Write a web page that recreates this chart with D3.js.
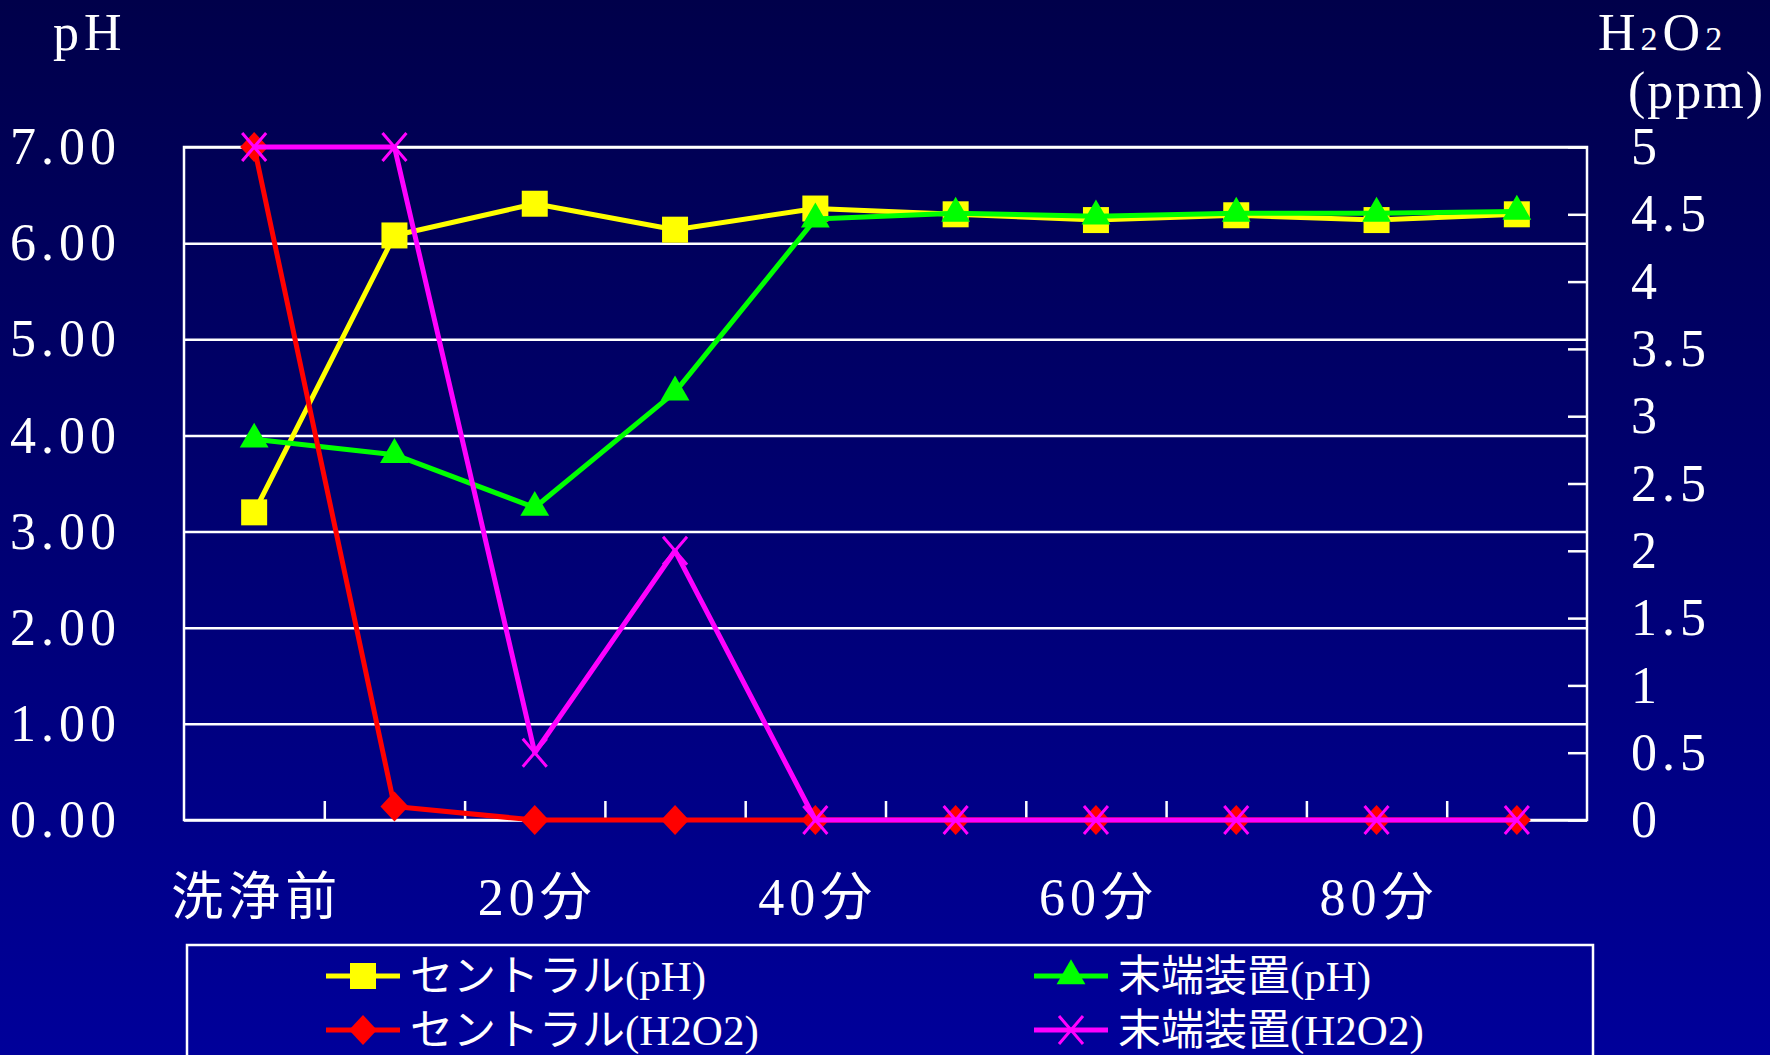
<!DOCTYPE html>
<html>
<head>
<meta charset="utf-8">
<script src="https://cdn.jsdelivr.net/npm/d3@7"></script>
<style>
body { margin: 0; background: #000060; }
</style>
</head>
<body>
<svg id="chart" width="1770" height="1055"></svg>
<script>
//variable definition
var WIDTH = 1770;
var HEIGHT = 1055;
var MARGIN = {left: 184, top: 147, right: 183, bottom: 235};
var BODY_WIDTH = WIDTH - MARGIN.left - MARGIN.right;
var BODY_HEIGHT = HEIGHT - MARGIN.top - MARGIN.bottom;
var LATIN_FONT = "'Liberation Serif', 'Noto Sans CJK JP', serif";

var CATEGORIES = ["洗浄前", "10分", "20分", "30分", "40分", "50分", "60分", "70分", "80分", "90分"];
var X_LABELS = ["洗浄前", "20分", "40分", "60分", "80分"];
var PH_TICKS = [0, 1, 2, 3, 4, 5, 6, 7];
var H2O2_TICKS = [0, 0.5, 1, 1.5, 2, 2.5, 3, 3.5, 4, 4.5, 5];

var CENTRAL_PH = [3.20, 6.08, 6.41, 6.14, 6.36, 6.30, 6.24, 6.29, 6.24, 6.30];
var TERMINAL_PH = [3.96, 3.80, 3.25, 4.45, 6.25, 6.31, 6.28, 6.31, 6.31, 6.33];
var CENTRAL_H2O2 = [5, 0.1, 0, 0, 0, 0, 0, 0, 0, 0];
var TERMINAL_H2O2 = [5, 5, 0.5, 2, 0, 0, 0, 0, 0, 0];

var SERIES = [
    {name: "セントラル(pH)", values: CENTRAL_PH, axis: "left", color: "#ffff00", marker: "square"},
    {name: "末端装置(pH)", values: TERMINAL_PH, axis: "left", color: "#00ff00", marker: "triangle"},
    {name: "セントラル(H2O2)", values: CENTRAL_H2O2, axis: "right", color: "#ff0000", marker: "diamond"},
    {name: "末端装置(H2O2)", values: TERMINAL_H2O2, axis: "right", color: "#ff00ff", marker: "x"}
];

function markerPath(type) {
    if (type == "square") return d3.symbol(d3.symbolSquare, 676)();
    if (type == "triangle") return d3.symbol(d3.symbolTriangle, 360)();
    if (type == "diamond") {
        let p = d3.path();
        p.moveTo(0, -15); p.lineTo(14, 0); p.lineTo(0, 15); p.lineTo(-14, 0); p.closePath();
        return p.toString();
    }
    let p = d3.path();
    p.moveTo(-12, -14); p.lineTo(12, 14);
    p.moveTo(12, -14); p.lineTo(-12, 14);
    return p.toString();
}

function drawMarker(sel, type, color) {
    sel.append("path")
        .attr("d", markerPath(type))
        .attr("fill", type == "x" ? "none" : color)
        .attr("stroke", type == "x" ? color : "none")
        .attr("stroke-width", 3);
}

function main() {
    let svg = d3.select("#chart");

    let grad = svg.append("defs").append("linearGradient")
        .attr("id", "bg").attr("x1", 0).attr("y1", 0).attr("x2", 0).attr("y2", 1);
    grad.append("stop").attr("offset", "0%").attr("stop-color", "#00004a");
    grad.append("stop").attr("offset", "100%").attr("stop-color", "#00009a");
    svg.append("rect").attr("width", WIDTH).attr("height", HEIGHT).attr("fill", "url(#bg)");

    let xBand = d3.scaleBand().domain(CATEGORIES).range([0, BODY_WIDTH]);
    let xPos = d => xBand(d) + xBand.bandwidth() / 2;
    let xTick = d3.scaleLinear().domain([0, CATEGORIES.length]).range([0, BODY_WIDTH]);
    let yLeft = d3.scaleLinear().domain([0, 7]).range([BODY_HEIGHT, 0]);
    let yRight = d3.scaleLinear().domain([0, 5]).range([BODY_HEIGHT, 0]);

    let chart = svg.append("g")
        .attr("transform", `translate(${MARGIN.left}, ${MARGIN.top})`);

    // gridlines
    chart.append("g")
        .call(d3.axisLeft(yLeft).tickValues(PH_TICKS).tickSize(-BODY_WIDTH).tickFormat(""))
        .call(g => g.select(".domain").remove())
        .selectAll("line").attr("stroke", "#ffffff").attr("stroke-width", 2.5);

    // frame
    chart.append("rect")
        .attr("width", BODY_WIDTH).attr("height", BODY_HEIGHT)
        .attr("fill", "none").attr("stroke", "#ffffff").attr("stroke-width", 2.5);

    // left axis
    chart.append("g")
        .call(d3.axisLeft(yLeft).tickValues(PH_TICKS).tickSize(0).tickPadding(63).tickFormat(d3.format(".2f")))
        .call(g => g.select(".domain").remove())
        .selectAll("text")
            .attr("fill", "#ffffff").attr("font-family", LATIN_FONT)
            .attr("font-size", 52).attr("letter-spacing", 5);

    // right axis, ticks inside
    let rightAxis = chart.append("g")
        .attr("transform", `translate(${BODY_WIDTH}, 0)`)
        .call(d3.axisRight(yRight).tickValues(H2O2_TICKS).tickSize(-19).tickPadding(44)
            .tickFormat(d => d % 1 ? d.toFixed(1) : d.toFixed(0)));
    rightAxis.select(".domain").remove();
    rightAxis.selectAll("line").attr("stroke", "#ffffff").attr("stroke-width", 2.5);
    rightAxis.selectAll("text")
        .attr("fill", "#ffffff").attr("font-family", LATIN_FONT)
        .attr("font-size", 52).attr("letter-spacing", 5);

    // bottom ticks between categories
    let bottomTicks = chart.append("g")
        .attr("transform", `translate(0, ${BODY_HEIGHT})`)
        .call(d3.axisBottom(xTick).tickValues(d3.range(1, CATEGORIES.length)).tickSize(-19).tickFormat(""));
    bottomTicks.select(".domain").remove();
    bottomTicks.selectAll("line").attr("stroke", "#ffffff").attr("stroke-width", 2.5);

    // category labels
    let bottomLabels = chart.append("g")
        .attr("transform", `translate(0, ${BODY_HEIGHT})`)
        .call(d3.axisBottom(xBand).tickValues(X_LABELS).tickSize(0).tickPadding(58));
    bottomLabels.select(".domain").remove();
    bottomLabels.selectAll("text")
        .attr("fill", "#ffffff").attr("font-family", LATIN_FONT)
        .attr("font-size", 52).attr("letter-spacing", 5).attr("dx", 2.5);

    // series
    SERIES.forEach(s => {
        let y = s.axis == "left" ? yLeft : yRight;
        let pts = s.values.map((v, i) => ({cat: CATEGORIES[i], val: v}));
        let line = d3.line().x(d => xPos(d.cat)).y(d => y(d.val));
        let g = chart.append("g");
        g.append("path")
            .datum(pts)
            .attr("fill", "none")
            .attr("stroke", s.color)
            .attr("stroke-width", 5)
            .attr("stroke-linejoin", "round")
            .attr("d", line);
        g.selectAll(".mk")
            .data(pts)
            .enter().append("g")
            .attr("transform", d => `translate(${xPos(d.cat)}, ${y(d.val)})`)
            .each(function() { drawMarker(d3.select(this), s.marker, s.color); });
    });

    // axis titles
    svg.append("text")
        .attr("x", 53).attr("y", 50)
        .attr("fill", "#ffffff").attr("font-family", LATIN_FONT)
        .attr("font-size", 52).attr("letter-spacing", 5)
        .text("pH");
    let h2o2 = svg.append("text")
        .attr("x", 1598).attr("y", 50)
        .attr("fill", "#ffffff").attr("font-family", LATIN_FONT)
        .attr("font-size", 52).attr("letter-spacing", 5);
    h2o2.append("tspan").text("H");
    h2o2.append("tspan").attr("font-size", 34).text("2");
    h2o2.append("tspan").text("O");
    h2o2.append("tspan").attr("font-size", 34).text("2");
    svg.append("text")
        .attr("x", 1628).attr("y", 108)
        .attr("fill", "#ffffff").attr("font-family", LATIN_FONT)
        .attr("font-size", 52).attr("letter-spacing", 2)
        .text("(ppm)");

    // legend
    let legend = svg.append("g");
    legend.append("rect")
        .attr("x", 187).attr("y", 945).attr("width", 1406).attr("height", 140)
        .attr("fill", "none").attr("stroke", "#ffffff").attr("stroke-width", 2.5);
    let colX = [326, 1034];
    let rowY = [976, 1030];
    SERIES.forEach((s, i) => {
        let lx = colX[i % 2];
        let ly = rowY[Math.floor(i / 2)];
        let item = legend.append("g").attr("transform", `translate(${lx}, ${ly})`);
        item.append("line")
            .attr("x1", 0).attr("x2", 74).attr("y1", 0).attr("y2", 0)
            .attr("stroke", s.color).attr("stroke-width", 5);
        let mk = item.append("g").attr("transform", "translate(37, 0)");
        drawMarker(mk, s.marker, s.color);
        item.append("text")
            .attr("x", 84).attr("y", 0).attr("dy", "0.36em")
            .attr("fill", "#ffffff").attr("font-family", LATIN_FONT)
            .attr("font-size", 43)
            .text(s.name);
    });
}

main();
</script>
</body>
</html>
